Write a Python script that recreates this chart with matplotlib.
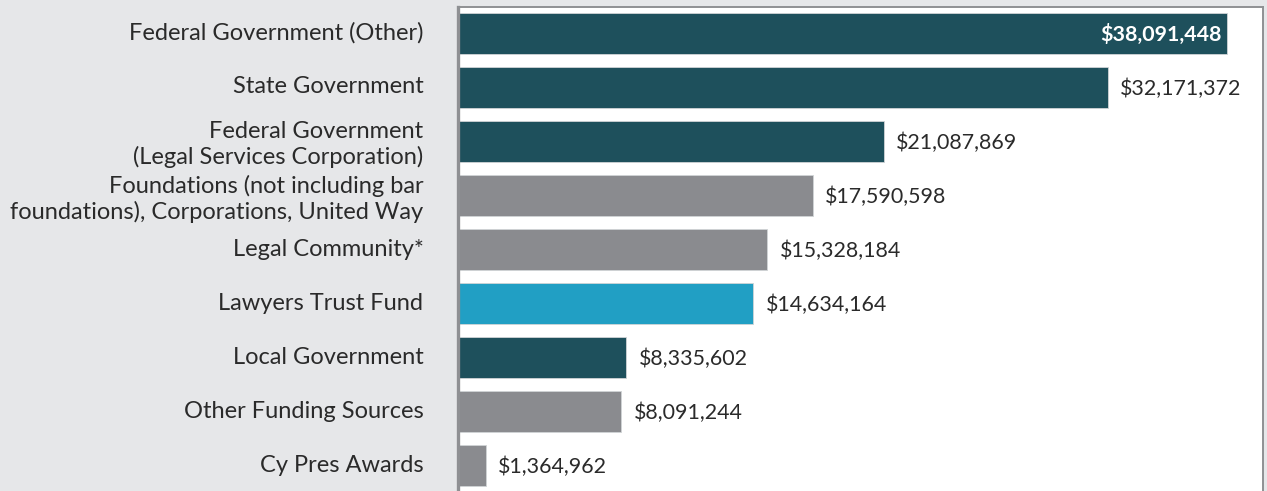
import matplotlib.pyplot as plt
from matplotlib.ticker import NullLocator
from matplotlib.transforms import blended_transform_factory

plt.rcParams['font.family'] = ['Lato', 'DejaVu Sans']

sources = ['Federal Government (Other)', 'State Government',
           'Federal Government\n(Legal Services Corporation)',
           'Foundations (not including bar\nfoundations), Corporations, United Way',
           'Legal Community*', 'Lawyers Trust Fund', 'Local Government',
           'Other Funding Sources', 'Cy Pres Awards']
amounts = [38091448, 32171372, 21087869, 17590598, 15328184,
           14634164, 8335602, 8091244, 1364962]
groups = ['gov', 'gov', 'gov', 'other', 'other', 'ltf', 'gov', 'other', 'other']

colors = {'gov': '#1e505c', 'other': '#8a8b8f', 'ltf': '#219fc4'}
bg = '#e6e7e9'

fig = plt.figure(figsize=(12.67, 4.91), dpi=100, facecolor=bg)
ax = fig.add_axes([458 / 1267, 0.0, (1263 - 458) / 1267, 1 - 6.5 / 491])
ax.set_facecolor('white')

ypos = list(range(len(sources)))
ax.barh(ypos, amounts, height=0.76,
        color=[colors[g] for g in groups], edgecolor='#d0d4d6', linewidth=0.6)

ax.set_xlim(0, 39.87e6)
ax.set_ylim(8.47, -0.5)
ax.xaxis.set_major_locator(NullLocator())
ax.yaxis.set_major_locator(NullLocator())

# category labels in the grey margin
trans = blended_transform_factory(fig.transFigure, ax.transData)
for i, name in enumerate(sources):
    dy = 0.055 if '\n' in name else -0.01
    ax.text(423.5 / 1267, i + dy, name, transform=trans, ha='right', va='center',
            fontsize=17, color='#2a2a2a', linespacing=1.22, multialignment='right')

for i, v in enumerate(amounts):
    txt = '${:,}'.format(v)
    if i == 0:
        ax.text(v - 0.25e6, i + 0.01, txt, ha='right', va='center',
                color='white', fontsize=15.4, fontweight='bold')
    else:
        ax.text(v + 0.6e6, i + 0.03, txt, ha='left', va='center',
                color='#2a2a2a', fontsize=15.4)

for s in ['top', 'right']:
    ax.spines[s].set_color('#8f9093')
    ax.spines[s].set_linewidth(1.4)
ax.spines['left'].set_color('#8f9093')
ax.spines['left'].set_linewidth(2.4)
ax.spines['bottom'].set_visible(False)

fig.savefig('out.png', dpi=100, facecolor=bg)
